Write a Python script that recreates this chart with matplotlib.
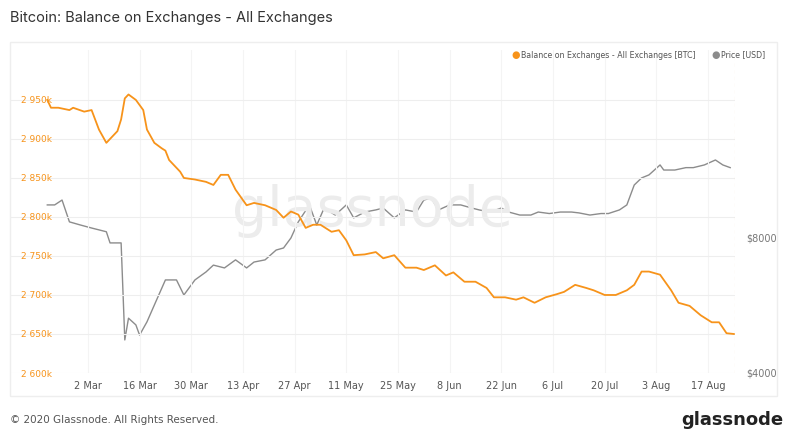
import matplotlib
matplotlib.use("Agg")
import matplotlib.pyplot as plt
import matplotlib.ticker as mt
import pandas as pd

base = pd.Timestamp("2020-03-02")
bal_days = [-11,-10,-8,-5,-4,-1,1,3,5,6,8,9,10,11,13,15,16,18,20,21,22,25,26,29,32,34,36,38,40,43,45,48,51,53,55,57,59,61,63,66,68,70,72,75,78,80,83,86,89,91,94,97,99,102,105,108,110,113,116,118,121,124,127,129,132,135,137,140,143,146,148,150,152,155,158,160,163,166,169,171,173,175]
bal_k = [2950,2940,2940,2937,2940,2935,2937,2912,2895,2900,2910,2925,2952,2957,2950,2937,2912,2895,2888,2885,2873,2858,2850,2848,2845,2841,2854,2854,2835,2815,2818,2815,2809,2799,2807,2803,2786,2790,2790,2781,2783,2770,2751,2752,2755,2747,2751,2735,2735,2732,2738,2725,2729,2717,2717,2709,2697,2697,2694,2697,2690,2697,2701,2704,2713,2709,2706,2700,2700,2706,2713,2730,2730,2726,2706,2690,2686,2674,2665,2665,2651,2650]
price_days = [-11,-9,-7,-5,-2,1,3,5,6,8,9,10,11,13,14,16,18,21,24,26,29,32,34,37,40,43,45,48,51,53,55,57,60,62,64,67,70,72,75,78,80,83,86,89,91,93,95,98,101,104,106,109,112,114,117,120,122,125,128,131,133,136,139,141,144,146,148,150,152,155,156,159,162,164,167,170,172,174]
price = [9480,9480,9720,8690,8550,8420,8340,8260,7800,7800,7800,4740,5300,5120,4860,5200,5670,6450,6450,5970,6450,6720,6960,6860,7150,6860,7070,7150,7520,7600,8000,8690,9480,8550,9330,9000,9480,8870,9140,9240,9330,8870,9240,9140,9720,9820,9240,9480,9480,9330,9240,9140,9330,9140,9000,9000,9140,9070,9140,9140,9100,9000,9070,9070,9240,9480,10500,10890,11060,11640,11340,11340,11480,11480,11640,11940,11640,11480]
tick_days = list(range(0, 169, 14))

bd = [base + pd.Timedelta(days=d) for d in bal_days]
pdays = [base + pd.Timedelta(days=d) for d in price_days]

fig = plt.figure(figsize=(7.93, 4.34), dpi=100)
fig.text(10/793, 1-18/434, "Bitcoin: Balance on Exchanges - All Exchanges", fontsize=10.5, color="#333333", va="center", family="Inter")
fig.patches.append(matplotlib.patches.Rectangle((10/793, 1-396/434), 767/793, 354/434, transform=fig.transFigure, fill=False, ec="#eeeeee", lw=1))
ax = fig.add_axes([10/793, 1-373/434, 725/793, 323/434])
ax2 = ax.twinx()
ax.set_zorder(2); ax.patch.set_visible(False)
ax2.plot(pdays, price, color="#8c8c8c", lw=1)
ax.plot(bd, bal_k, color="#f7931a", lw=1.3)
ax.set_ylim(2600, 3014)
ax.set_yticks(range(2600, 2951, 50))
ax.yaxis.set_major_formatter(mt.FuncFormatter(lambda v, p: f"{int(round(v))//1000} {int(round(v))%1000:03d}k"))
ax.tick_params(axis="y", direction="in", pad=-8, length=0, labelsize=6.5, labelcolor="#f7931a")
for l in ax.get_yticklabels():
    l.set_horizontalalignment("left")
ax.grid(axis="y", color="#eeeeee", lw=0.8)
ax.grid(axis="x", color="#f4f4f4", lw=0.8)
ax.set_xlim(base + pd.Timedelta(days=-21.1), base + pd.Timedelta(days=175.3))
ax.set_xticks([base + pd.Timedelta(days=d) for d in tick_days])
ax.set_xticklabels([(base + pd.Timedelta(days=d)).strftime("%-d %b") for d in tick_days])
ax.tick_params(axis="x", length=0, labelsize=7, labelcolor="#555555", pad=6)
ax2.set_yscale("log")
ax2.set_ylim(4000, 21000)
ax2.yaxis.set_major_locator(mt.FixedLocator([4000, 8000]))
ax2.yaxis.set_minor_locator(mt.NullLocator())
ax2.yaxis.set_major_formatter(mt.FuncFormatter(lambda v, p: f"${v:.0f}"))
ax2.tick_params(axis="y", length=0, labelsize=7, labelcolor="#777777", pad=8)
for a in (ax, ax2):
    for s in a.spines.values():
        s.set_visible(False)
ax.axvline(base + pd.Timedelta(days=175.3), color="#fbd9b0", ls=(0, (3, 3)), lw=0.8)
ax.text(0.5, 0.5, "glassnode", transform=ax.transAxes, fontsize=40, color="#ececec", ha="center", va="center", zorder=0)
fig.text(511/793, 1-55/434, "●", color="#f7931a", fontsize=7, va="center")
fig.text(521/793, 1-55/434, "Balance on Exchanges - All Exchanges [BTC]", color="#555555", fontsize=5.7, va="center")
fig.text(711/793, 1-55/434, "●", color="#8c8c8c", fontsize=7, va="center")
fig.text(721/793, 1-55/434, "Price [USD]", color="#555555", fontsize=5.7, va="center")
fig.text(10/793, 1-420/434, "© 2020 Glassnode. All Rights Reserved.", color="#555555", fontsize=7.5, va="center")
fig.text(783/793, 1-420/434, "glassnode", color="#222222", fontsize=13, va="center", ha="right", weight="bold")
fig.savefig("out.png", dpi=100)
